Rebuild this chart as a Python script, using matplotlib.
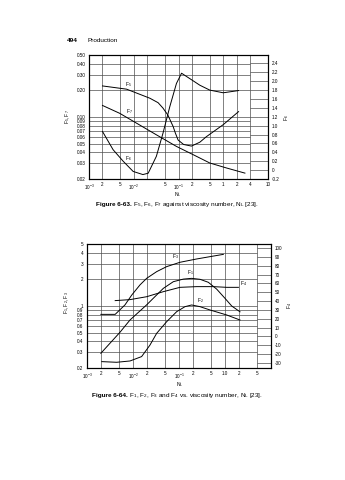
import matplotlib
matplotlib.use('Agg')
import matplotlib.pyplot as plt

# fonts: narrow sans for the scanned book look
plt.rcParams['font.family'] = ['Liberation Sans', 'DejaVu Sans']
plt.rcParams['mathtext.fontset'] = 'custom'
plt.rcParams['mathtext.rm'] = 'Liberation Sans'
plt.rcParams['mathtext.it'] = 'Liberation Sans'
plt.rcParams['mathtext.bf'] = 'Liberation Sans:bold'

# ---- Figure 6-63 data (F5, F7 left log axis, F6 right linear axis) ----
nl_f5 = [0.002, 0.0069, 0.0228, 0.035, 0.045, 0.058, 0.068, 0.076, 0.085, 0.098, 0.13, 0.195, 0.3, 0.42, 1.0, 2.2]
f5 = [0.224, 0.206, 0.163, 0.145, 0.126, 0.105, 0.088, 0.078, 0.066, 0.055, 0.049, 0.047, 0.052, 0.060, 0.082, 0.115]

nl_f7 = [0.002, 0.00486, 0.0115, 0.032, 0.09, 0.213, 0.5, 1.19, 3.05]
f7 = [0.135, 0.110, 0.0853, 0.063, 0.0466, 0.0376, 0.0303, 0.0266, 0.0233]

nl_f6 = [0.002, 0.00345, 0.0058, 0.0097, 0.016, 0.021, 0.032, 0.045, 0.064, 0.09, 0.117, 0.178, 0.30, 0.50, 1.0, 2.2]
f6 = [0.87, 0.46, 0.20, -0.03, -0.10, -0.07, 0.31, 0.83, 1.43, 1.95, 2.18, 2.06, 1.91, 1.80, 1.74, 1.79]

top_xticks = [1e-3, 2e-3, 5e-3, 1e-2, 5e-2, 1e-1, 2e-1, 5e-1, 1, 2, 4, 10]
top_xlabels = ['10$^{-3}$', '2', '5', '10$^{-2}$', '5', '10$^{-1}$', '2', '5', '1', '2', '4', '10']
top_xgrid = [2e-3, 5e-3, 1e-2, 2e-2, 5e-2, 1e-1, 2e-1, 5e-1, 1, 2, 4]
top_yticks = [0.02, 0.03, 0.04, 0.05, 0.06, 0.07, 0.08, 0.09, 0.10, 0.20, 0.30, 0.40, 0.50]
top_y2ticks = [-0.2, 0, 0.2, 0.4, 0.6, 0.8, 1.0, 1.2, 1.4, 1.6, 1.8, 2.0, 2.2, 2.4]

# ---- Figure 6-64 data (F1, F2, F3 left log axis, F4 right linear axis) ----
nl_f1 = [0.002, 0.0052, 0.0086, 0.0198, 0.0456, 0.0753, 0.124, 0.188, 0.286, 0.434, 0.659, 1.0, 1.4, 2.12]
f1 = [0.293, 0.505, 0.695, 1.03, 1.58, 1.88, 2.01, 2.05, 2.0, 1.85, 1.55, 1.22, 1.0, 0.86]

nl_f2 = [0.0021, 0.0044, 0.0086, 0.0154, 0.0234, 0.0327, 0.054, 0.089, 0.135, 0.188, 0.286, 0.472, 1.09, 2.12]
f2 = [0.236, 0.232, 0.240, 0.269, 0.363, 0.492, 0.666, 0.863, 0.983, 1.027, 0.983, 0.902, 0.792, 0.695]

nl_f3 = [0.002, 0.0041, 0.0067, 0.0094, 0.0142, 0.0198, 0.0327, 0.054, 0.105, 0.242, 0.472, 0.92]
f3 = [0.805, 0.805, 1.03, 1.33, 1.73, 2.05, 2.44, 2.78, 3.11, 3.39, 3.60, 3.82]

nl_f4 = [0.0041, 0.0086, 0.0198, 0.0456, 0.105, 0.242, 0.558, 1.09, 1.96]
f4 = [40.5, 41.6, 44.9, 50.6, 55.5, 56.3, 56.3, 55.5, 55.5]

bot_xticks = [1e-3, 2e-3, 5e-3, 1e-2, 2e-2, 5e-2, 1e-1, 2e-1, 5e-1, 1, 2, 5]
bot_xlabels = ['10$^{-3}$', '2', '5', '10$^{-2}$', '2', '5', '10$^{-1}$', '2', '5', '1.0', '2', '5']
bot_xgrid = [2e-3, 5e-3, 1e-2, 2e-2, 5e-2, 1e-1, 2e-1, 5e-1, 1, 2, 5]
bot_yticks = [0.2, 0.3, 0.4, 0.5, 0.6, 0.7, 0.8, 0.9, 1, 2, 3, 4, 5]
bot_y2ticks = [-30, -20, -10, 0, 10, 20, 30, 40, 50, 60, 70, 80, 90, 100]

W, H = 345, 480
TICK_FS = 3.3
CAP_FS = 4.6
GRID_C = '0.3'


def fx(px):
    return px / W


def fy(py):
    return 1 - py / H


def setup_chart(rect, ylim, y2lim, xticks, xlabels, xgrid, yticks, ylabels,
                y2ticks, y2labels, xsplit):
    ax = fig.add_axes(rect)
    ax.set_xscale('log')
    ax.set_yscale('log')
    ax.set_xlim(1e-3, 10)
    ax.set_ylim(*ylim)
    ax2 = ax.twinx()
    ax2.set_ylim(*y2lim)

    # grid lines like the printed nomograph
    for x in xgrid:
        ax.axvline(x, color=GRID_C, lw=0.5, zorder=0)
    ax.hlines(yticks, 1e-3, xsplit, color=GRID_C, lw=0.5, zorder=0)
    ax2.hlines(y2ticks, xsplit, 10, color=GRID_C, lw=0.5, zorder=0)

    ax.set_xticks(xticks)
    ax.set_xticklabels(xlabels)
    ax.xaxis.set_minor_locator(matplotlib.ticker.NullLocator())
    ax.set_yticks(yticks)
    ax.set_yticklabels(ylabels)
    ax.yaxis.set_minor_locator(matplotlib.ticker.NullLocator())
    ax2.set_yticks(y2ticks)
    ax2.set_yticklabels(y2labels)
    for a in (ax, ax2):
        a.tick_params(length=0, labelsize=TICK_FS, pad=2.5)
        for s in a.spines.values():
            s.set_linewidth(0.8)
    return ax, ax2


fig = plt.figure(figsize=(W / 100, H / 100), dpi=100)

# page header
fig.text(fx(67), fy(41), '494', fontsize=4.6, fontweight='bold', va='center')
fig.text(fx(88), fy(41), 'Production', fontsize=4.6, va='center')

# ---------------- Figure 6-63 ----------------
ax, ax2 = setup_chart(
    [fx(89), fy(179), (268 - 89) / W, (179 - 55) / H],
    (0.02, 0.50), (-0.2, 2.59),
    top_xticks, top_xlabels, top_xgrid,
    top_yticks, ['%.2f' % v for v in top_yticks],
    top_y2ticks, ['0' if v == 0 else '%.1f' % v for v in top_y2ticks],
    4)
ax.plot(nl_f5, f5, color='k', lw=0.7)
ax.plot(nl_f7, f7, color='k', lw=0.7)
ax2.plot(nl_f6, f6, color='k', lw=0.7)
ax.text(0.0065, 0.225, 'F$_5$', fontsize=3.6)
ax.text(0.0068, 0.112, 'F$_7$', fontsize=3.6)
ax.text(0.0063, 0.033, 'F$_6$', fontsize=3.6)

fig.text(fx(68), fy(117), 'F$_5$, F$_7$', fontsize=3.6, rotation=90, ha='center', va='center')
fig.text(fx(287), fy(118), 'F$_6$', fontsize=3.6, rotation=90, ha='center', va='center')
fig.text(fx(178), fy(195), 'N$_L$', fontsize=3.6, ha='center', va='center')

t1 = fig.text(fx(96), fy(205), 'Figure 6-63.', fontsize=CAP_FS, fontweight='bold', va='center')
ax.annotate(' F$_5$, F$_6$, F$_7$ against viscosity number, N$_L$ [23].', xy=(1, 0.5),
            xycoords=t1, va='center', fontsize=CAP_FS, annotation_clip=False)

# ---------------- Figure 6-64 ----------------
bx, bx2 = setup_chart(
    [fx(87), fy(368), (271 - 87) / W, (368 - 244) / H],
    (0.2, 5), (-35.7, 104.5),
    bot_xticks, bot_xlabels, bot_xgrid,
    bot_yticks, ['%g' % v for v in bot_yticks],
    bot_y2ticks, ['%d' % v for v in bot_y2ticks],
    5)
bx.plot(nl_f1, f1, color='k', lw=0.7)
bx.plot(nl_f2, f2, color='k', lw=0.7)
bx.plot(nl_f3, f3, color='k', lw=0.7)
bx2.plot(nl_f4, f4, color='k', lw=0.7)
bx.text(0.15, 2.3, 'F$_1$', fontsize=3.6)
bx.text(0.25, 1.12, 'F$_2$', fontsize=3.6)
bx.text(0.07, 3.5, 'F$_3$', fontsize=3.6)
bx2.text(2.1, 58, 'F$_4$', fontsize=3.6)

fig.text(fx(67), fy(303), 'F$_1$, F$_2$, F$_3$', fontsize=3.6, rotation=90, ha='center', va='center')
fig.text(fx(290), fy(305), 'F$_4$', fontsize=3.6, rotation=90, ha='center', va='center')
fig.text(fx(180), fy(385), 'N$_L$', fontsize=3.6, ha='center', va='center')

t2 = fig.text(fx(92), fy(396), 'Figure 6-64.', fontsize=CAP_FS, fontweight='bold', va='center')
bx.annotate(' F$_1$, F$_2$, F$_3$ and F$_4$ vs. viscosity number, N$_L$ [23].', xy=(1, 0.5),
            xycoords=t2, va='center', fontsize=CAP_FS, annotation_clip=False)

plt.savefig('out.png', dpi=100)
